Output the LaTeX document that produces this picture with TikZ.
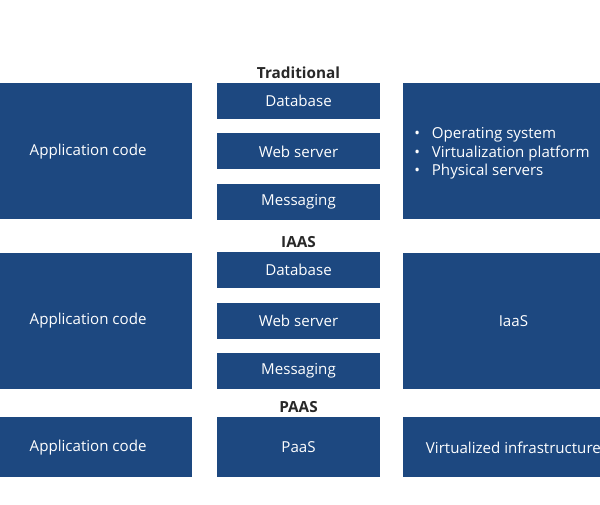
\documentclass[tikz,border=0pt]{standalone}
\usepackage{fontspec}
\setmainfont{Open Sans}
\usepackage{tikz}
\usetikzlibrary{positioning}

\definecolor{boxblue}{RGB}{29,72,128}
\definecolor{titlegray}{RGB}{40,40,40}

\begin{document}
\begin{tikzpicture}[x=1pt,y=-1pt,
    every node/.style={font=\fontsize{15.1}{18.3}\selectfont},
    block/.style={fill=boxblue,text=white,inner sep=0pt},
    small/.style={block,minimum width=163pt,minimum height=36pt},
    big/.style={block,minimum width=207pt,minimum height=136pt},
    wide/.style={block,minimum width=220pt,minimum height=136pt},
    title/.style={text=titlegray,font=\fontsize{15.3}{17}\selectfont\bfseries,inner sep=1pt}]
    \clip (0,0) rectangle (600,504);
    \fill[white] (0,0) rectangle (600,504);
    % traditional
    \node(dbA) [small] at (298.5,101) {Database};
    \node(webA) [small,below=14pt of dbA] {Web server};
    \node(msgA) [small,below=14pt of webA] {Messaging};
    \node(tradT) [title,above=3pt of dbA] {Traditional};
    \node(appA) [big,left=25pt of webA] {Application code};
    \node(osA) [wide,right=23pt of webA] {};
    \node(osL) [anchor=west,text=white,align=left,inner sep=0pt] at ([xshift=11pt,yshift=-2pt]osA.west)
        {\makebox[17.5pt][l]{•}Operating system\\
         \makebox[17.5pt][l]{•}Virtualization platform\\
         \makebox[17.5pt][l]{•}Physical servers};
    % iaas
    \node(dbB) [small,below=32pt of msgA] {Database};
    \node(webB) [small,below=14pt of dbB] {Web server};
    \node(msgB) [small,below=14pt of webB] {Messaging};
    \node(iaasT) [title,above=3pt of dbB] {IAAS};
    \node(appB) [big,left=25pt of webB] {Application code};
    \node(iaasB) [wide,right=23pt of webB] {IaaS};
    % paas
    \node(paasC) [small,minimum height=60pt,below=28pt of msgB] {PaaS};
    \node(paasT) [title,above=3pt of paasC] {PAAS};
    \node(appC) [big,minimum height=60pt,left=25pt of paasC] {Application code};
    \node(virtC) [wide,minimum height=60pt,right=23pt of paasC] {Virtualized infrastructure};
\end{tikzpicture}
\end{document}
